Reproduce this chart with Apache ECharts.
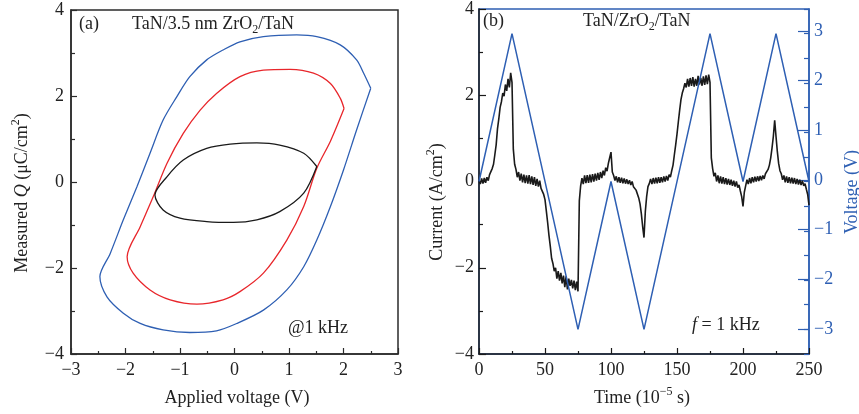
<!DOCTYPE html>
<html>
<head>
<meta charset="utf-8">
<script src="https://cdn.jsdelivr.net/npm/echarts@6/dist/echarts.min.js"></script>
<style>
  html, body { margin: 0; padding: 0; background: #fff; }
  #chart { width: 859px; height: 414px; }
</style>
</head>
<body>
<div id="chart"></div>
<script>
// ---- (a) charge–voltage loops, [voltage V, charge µC/cm²] ----
const loopOuter = [
  [2.50, 2.18], [2.37, 2.53], [2.24, 2.84], [1.94, 3.19], [1.51, 3.38], [1.14, 3.42],
  [0.53, 3.38], [0.10, 3.26], [-0.21, 3.07], [-0.51, 2.84], [-0.82, 2.45], [-1.06, 1.98],
  [-1.31, 1.44], [-1.55, 0.67], [-1.79, -0.11], [-2.04, -0.88], [-2.28, -1.66], [-2.47, -2.20],
  [-2.34, -2.67], [-2.04, -3.05], [-1.73, -3.29], [-1.31, -3.44], [-0.82, -3.50], [-0.33, -3.46],
  [0.04, -3.29], [0.53, -2.98], [0.96, -2.51], [1.27, -1.97], [1.51, -1.35], [1.76, -0.57],
  [2.00, 0.28], [2.24, 1.21], [2.50, 2.18]
];
const loopMiddle = [
  [2.01, 1.71], [1.94, 1.95], [1.76, 2.29], [1.45, 2.53], [1.02, 2.62], [0.53, 2.60],
  [0.10, 2.45], [-0.33, 2.06], [-0.63, 1.67], [-0.94, 1.13], [-1.24, 0.43], [-1.49, -0.34],
  [-1.73, -1.04], [-1.97, -1.74], [-1.86, -2.12], [-1.55, -2.51], [-1.18, -2.74], [-0.69, -2.84],
  [-0.21, -2.74], [0.10, -2.55], [0.53, -2.12], [0.96, -1.35], [1.27, -0.57], [1.51, 0.32],
  [1.76, 0.95], [2.01, 1.71]
];
const loopInner = [
  [1.51, 0.36], [1.27, 0.67], [0.83, 0.86], [0.41, 0.91], [-0.08, 0.88], [-0.51, 0.78],
  [-0.94, 0.51], [-1.24, 0.12], [-1.46, -0.30], [-1.31, -0.65], [-1.00, -0.84], [-0.51, -0.92],
  [-0.02, -0.94], [0.41, -0.88], [0.83, -0.69], [1.27, -0.26], [1.51, 0.36]
];

// ---- (b) triangular voltage sweep ----
const voltTimes = [0, 25, 75, 100, 125, 175, 200, 225, 250];      // 10^-5 s
const voltValues = [0, 3, -3, 0, -3, 3, 0, 3, 0];                 // V

// ---- (b) measured current, one sample per 10^-5 s from 0 to 250 ----
const currentValues = [
  0.02, -0.06, 0.07, -0.05, 0.08, -0.03, 0.10, 0.02, 0.16, 0.12,
  0.30, 0.40, 0.62, 0.85, 1.22, 1.45, 1.72, 1.85, 2.05, 1.98,
  2.25, 2.10, 2.38, 2.18, 2.52, 2.30, 0.75, 0.40, 0.28, 0.10,
  0.22, 0.02, 0.18, -0.02, 0.16, -0.04, 0.14, -0.05, 0.15, -0.06,
  0.12, -0.08, 0.10, -0.10, 0.06, -0.12, 0.02, -0.16, -0.12, -0.30,
  -0.42, -0.68, -0.95, -1.25, -1.50, -1.78, -1.90, -2.08, -2.00, -2.25,
  -2.08, -2.30, -2.12, -2.36, -2.18, -2.45, -2.20, -2.50, -2.25, -2.42,
  -2.28, -2.48, -2.30, -2.52, -2.32, -2.55, -0.45, -0.10, 0.08, -0.06,
  0.14, -0.04, 0.15, -0.03, 0.16, -0.02, 0.17, 0.00, 0.18, 0.02,
  0.20, 0.04, 0.22, 0.08, 0.25, 0.14, 0.32, 0.24, 0.42, 0.55,
  0.68, 0.22, 0.14, 0.02, 0.12, -0.02, 0.10, -0.03, 0.09, -0.04,
  0.07, -0.05, 0.05, -0.06, 0.03, -0.08, 0.00, -0.12, -0.08, -0.20,
  -0.24, -0.38, -0.52, -0.75, -1.05, -1.30, -0.70, -0.35, -0.12, -0.05,
  0.06, -0.06, 0.08, -0.05, 0.09, -0.04, 0.10, -0.03, 0.10, -0.02,
  0.12, 0.00, 0.13, 0.02, 0.16, 0.10, 0.25, 0.38, 0.62, 0.85,
  1.10, 1.38, 1.65, 1.90, 2.05, 2.15, 2.28, 2.18, 2.38, 2.20,
  2.40, 2.22, 2.42, 2.20, 2.38, 2.22, 2.45, 2.25, 2.40, 2.22,
  2.44, 2.24, 2.46, 2.26, 2.48, 2.30, 0.55, 0.30, 0.12, 0.20,
  0.00, 0.14, -0.04, 0.12, -0.05, 0.10, -0.06, 0.08, -0.07, 0.06,
  -0.08, 0.04, -0.10, 0.02, -0.12, 0.00, -0.14, -0.08, -0.22, -0.35,
  -0.58, -0.25, -0.10, 0.04, -0.06, 0.08, -0.04, 0.10, -0.02, 0.11,
  0.00, 0.12, 0.01, 0.13, 0.03, 0.14, 0.06, 0.18, 0.15, 0.28,
  0.38, 0.55, 0.78, 1.05, 1.42, 1.05, 0.70, 0.42, 0.25, 0.18,
  0.04, 0.14, -0.02, 0.12, -0.03, 0.10, -0.04, 0.09, -0.05, 0.08,
  -0.06, 0.06, -0.07, 0.04, -0.08, 0.02, -0.10, -0.05, -0.18, -0.30,
  -0.55
];

// ---- tick ranges ----
const voltageTicksA = { min: -3, max: 3, step: 1 };
const chargeTicksA = { min: -4, max: 4, step: 2 };
const timeTicksB = { min: 0, max: 250, step: 50 };
const currentTicksB = { min: -4, max: 4, step: 2 };
const voltageTicksB = { min: -3, max: 3, step: 1 };

const FONT = '"Liberation Serif", "DejaVu Serif", serif';
const FS = 18;      // main text size
const FS_SMALL = 12; // sub/superscripts
const BLUE = '#2e5fb3';
const RED = '#e8262b';
const INK = '#1a1a1a';
const FRAME = '#2b2b2b';

const currentPairs = currentValues.map((v, i) => [i, v]);
const voltPairs = voltTimes.map((t, i) => [t, voltValues[i]]);

const minus = v => String(v).replace('-', '\u2212');

function labelStyle(color, margin) {
  return { color: color, fontFamily: FONT, fontSize: FS, margin: margin, formatter: minus };
}

const chart = echarts.init(document.getElementById('chart'), null, { renderer: 'canvas' });

// grid geometry
const gA = { left: 71, top: 10, width: 327, height: 344 };
const gB = { left: 479, top: 6, width: 330, height: 348 };
const vSpan = 3.5; // right-axis half range in panel (b)
const majTop = gB.top + gB.height * (vSpan - voltageTicksB.max) / (2 * vSpan);
const majH = gB.height * (voltageTicksB.max - voltageTicksB.min) / (2 * vSpan);

const richBase = {
  n: { fontFamily: FONT, fontSize: FS, lineHeight: 24 },
  i: { fontFamily: FONT, fontSize: FS, fontStyle: 'italic', lineHeight: 24 },
  s: { fontFamily: FONT, fontSize: FS_SMALL, verticalAlign: 'bottom', lineHeight: 24 },
  p: { fontFamily: FONT, fontSize: FS_SMALL, verticalAlign: 'top', lineHeight: 24 }
};

function txt(x, y, text, opts) {
  opts = opts || {};
  return {
    type: 'text', x: x, y: y, rotation: opts.rotation || 0,
    style: {
      text: text, rich: richBase, fill: opts.fill || '#222',
      textAlign: opts.align || 'left', textVerticalAlign: 'middle'
    }
  };
}

chart.setOption({
  animation: false,
  backgroundColor: '#fff',
  grid: [
    Object.assign({ show: true, borderColor: FRAME, borderWidth: 1.5, backgroundColor: 'transparent' }, gA),
    Object.assign({ show: true, borderColor: BLUE, borderWidth: 1.5, backgroundColor: 'transparent' }, gB),
    { left: gB.left, width: gB.width, top: majTop, height: majH, show: false }
  ],
  xAxis: [
    {
      gridIndex: 0, type: 'value', min: voltageTicksA.min, max: voltageTicksA.max, interval: voltageTicksA.step,
      axisLine: { onZero: false, lineStyle: { color: FRAME, width: 1.5 } },
      axisTick: { inside: true, length: 6, lineStyle: { color: FRAME, width: 1.2 } },
      minorTick: { show: true, splitNumber: 2, length: 3, lineStyle: { color: FRAME, width: 1.2 } },
      splitLine: { show: false },
      axisLabel: labelStyle('#222', 7)
    },
    {
      gridIndex: 1, type: 'value', min: timeTicksB.min, max: timeTicksB.max, interval: timeTicksB.step,
      axisLine: { onZero: false, lineStyle: { color: INK, width: 1.5 } },
      axisTick: { inside: true, length: 6, lineStyle: { color: INK, width: 1.2 } },
      minorTick: { show: true, splitNumber: 2, length: 3, lineStyle: { color: INK, width: 1.2 } },
      splitLine: { show: false },
      axisLabel: labelStyle('#222', 7)
    },
    {
      gridIndex: 2, type: 'value', min: timeTicksB.min, max: timeTicksB.max, show: false,
      axisLine: { onZero: false }
    }
  ],
  yAxis: [
    {
      gridIndex: 0, type: 'value', min: chargeTicksA.min, max: chargeTicksA.max, interval: chargeTicksA.step,
      axisLine: { onZero: false, lineStyle: { color: FRAME, width: 1.5 } },
      axisTick: { inside: true, length: 6, lineStyle: { color: FRAME, width: 1.2 } },
      minorTick: { show: true, splitNumber: 2, length: 4, lineStyle: { color: FRAME, width: 1.2 } },
      splitLine: { show: false },
      axisLabel: labelStyle('#222', 7)
    },
    {
      gridIndex: 1, type: 'value', min: currentTicksB.min, max: currentTicksB.max, interval: currentTicksB.step,
      axisLine: { onZero: false, lineStyle: { color: INK, width: 1.5 } },
      axisTick: { inside: true, length: 7, lineStyle: { color: INK, width: 1.2 } },
      minorTick: { show: true, splitNumber: 2, length: 4, lineStyle: { color: INK, width: 1.2 } },
      splitLine: { show: false },
      axisLabel: labelStyle('#222', 5)
    },
    {
      // right voltage axis: frame line and half-volt ticks
      gridIndex: 1, type: 'value', position: 'right', min: -vSpan, max: vSpan, interval: 0.5,
      axisLine: { onZero: false, lineStyle: { color: BLUE, width: 1.5 } },
      axisTick: { inside: true, length: 5, lineStyle: { color: BLUE, width: 1.2 } },
      axisLabel: { show: false },
      splitLine: { show: false }
    },
    {
      // right voltage axis: whole-volt ticks and labels
      gridIndex: 2, type: 'value', position: 'right', min: voltageTicksB.min, max: voltageTicksB.max,
      interval: voltageTicksB.step,
      axisLine: { show: false, onZero: false },
      axisTick: { inside: true, length: 11, lineStyle: { color: BLUE, width: 1.2 } },
      axisLabel: labelStyle(BLUE, 5),
      splitLine: { show: false }
    }
  ],
  series: [
    { type: 'line', xAxisIndex: 0, yAxisIndex: 0, data: loopOuter, showSymbol: false, smooth: 0.3,
      lineStyle: { color: BLUE, width: 1.3 } },
    { type: 'line', xAxisIndex: 0, yAxisIndex: 0, data: loopMiddle, showSymbol: false, smooth: 0.3,
      lineStyle: { color: RED, width: 1.3 } },
    { type: 'line', xAxisIndex: 0, yAxisIndex: 0, data: loopInner, showSymbol: false, smooth: 0.3,
      lineStyle: { color: INK, width: 1.3 } },
    { type: 'line', xAxisIndex: 1, yAxisIndex: 1, data: currentPairs, showSymbol: false,
      lineStyle: { color: INK, width: 1.6 } },
    { type: 'line', xAxisIndex: 1, yAxisIndex: 2, data: voltPairs, showSymbol: false,
      lineStyle: { color: BLUE, width: 1.5 }, z: 3 }
  ],
  graphic: [
    txt(79, 24, '{n|(a)}'),
    txt(132, 24, '{n|TaN/3.5 nm ZrO}{s|2}{n|/TaN}'),
    txt(288, 328, '{n|@1 kHz}'),
    txt(483, 21, '{n|(b)}'),
    txt(583, 21, '{n|TaN/ZrO}{s|2}{n|/TaN}'),
    txt(692, 325, '{i|f}{n| = 1 kHz}'),
    // axis titles
    txt(237, 398, '{n|Applied voltage (V)}', { align: 'center' }),
    txt(22, 193, '{n|Measured }{i|Q}{n| (\u03bcC/cm}{p|2}{n|)}', { align: 'center', rotation: Math.PI / 2 }),
    txt(642, 398, '{n|Time (10}{p|\u22125}{n| s)}', { align: 'center' }),
    txt(437, 202, '{n|Current (A/cm}{p|2}{n|)}', { align: 'center', rotation: Math.PI / 2 }),
    txt(852, 192, '{n|Voltage (V)}', { align: 'center', rotation: Math.PI / 2, fill: BLUE })
  ]
});
</script>
</body>
</html>
